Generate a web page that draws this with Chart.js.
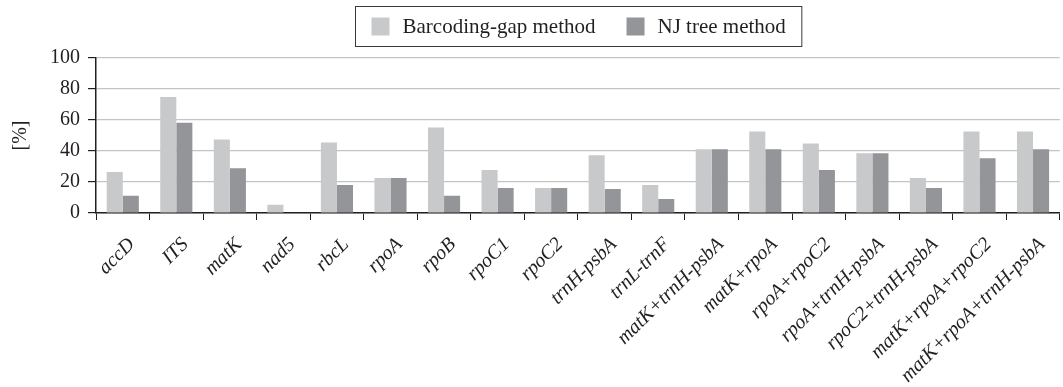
<!DOCTYPE html>
<html>
<head>
<meta charset="utf-8">
<script src="https://cdn.jsdelivr.net/npm/chart.js@4.4.1/dist/chart.umd.min.js"></script>
<style>
  html, body { margin: 0; padding: 0; background: #fff; }
  #wrap { width: 1063px; height: 387px; position: relative; }
</style>
</head>
<body>
<div id="wrap"><canvas id="chart"></canvas></div>
<script>
// Data
const markers = ["accD", "ITS", "matK", "nad5", "rbcL", "rpoA", "rpoB", "rpoC1", "rpoC2",
  "trnH-psbA", "trnL-trnF", "matK+trnH-psbA", "matK+rpoA", "rpoA+rpoC2",
  "rpoA+trnH-psbA", "rpoC2+trnH-psbA", "matK+rpoA+rpoC2", "matK+rpoA+trnH-psbA"];
const gapValues = [26.4, 74.9, 47.4, 5.3, 45.5, 22.6, 55.1, 27.7, 16.2,
  37.2, 18.1, 41.1, 52.6, 44.9, 38.5, 22.6, 52.6, 52.6];
const njValues = [11.1, 58.3, 28.9, 0, 18.1, 22.6, 11.1, 16.2, 16.2,
  15.5, 9.1, 41.1, 41.1, 27.7, 38.5, 16.2, 35.3, 41.1];
const seriesNames = ["Barcoding-gap method", "NJ tree method"];
const yTicks = [0, 20, 40, 60, 80, 100];

const ink = "#231f20";
const serif = "'Liberation Serif', 'Times New Roman', serif";

// Legend drawn inside a framed box, centred over the plot
const boxedLegend = {
  id: "boxedLegend",
  afterDraw(chart) {
    const c = chart.ctx, area = chart.chartArea;
    c.save();
    c.font = "21px " + serif;
    const items = chart.data.datasets.map(ds => ({
      label: ds.label, color: ds.backgroundColor, w: c.measureText(ds.label).width
    }));
    const sw = 18, gap = 13, spacing = 31, padX = 16;
    const total = items.reduce((s, it) => s + sw + gap + it.w, 0) + spacing * (items.length - 1) + padX * 2;
    const left = Math.round((area.left + area.right) / 2 - total / 2) + 0.5;
    const top = 6.5, h = 40;
    c.strokeStyle = "#3a3a3a";
    c.lineWidth = 1;
    c.strokeRect(left, top, total, h);
    let x = left + padX;
    const mid = top + h / 2;
    items.forEach(it => {
      c.fillStyle = it.color;
      c.fillRect(x, mid - sw / 2, sw, sw);
      x += sw + gap;
      c.fillStyle = ink;
      c.textBaseline = "middle";
      c.fillText(it.label, x, mid + 1);
      x += it.w + spacing;
    });
    c.restore();
  }
};

new Chart(document.getElementById("chart"), {
  type: "bar",
  data: {
    labels: markers,
    datasets: [
      { label: seriesNames[0], data: gapValues, backgroundColor: "#c8c9cb" },
      { label: seriesNames[1], data: njValues, backgroundColor: "#939598" }
    ]
  },
  options: {
    responsive: true,
    maintainAspectRatio: false,
    animation: false,
    datasets: { bar: { categoryPercentage: 0.6, barPercentage: 1.0 } },
    layout: { padding: { top: 58, right: -6, left: 9, bottom: 0 } },
    plugins: { legend: { display: false }, tooltip: { enabled: false } },
    scales: {
      x: {
        afterFit: axis => { axis.height = 174; },
        grid: { drawOnChartArea: false, drawTicks: true, tickLength: 7, tickColor: ink, offset: true },
        border: { color: ink, width: 1.5 },
        ticks: {
          color: ink, font: { family: serif, size: 20, style: "italic" },
          minRotation: 45, maxRotation: 45, autoSkip: false, padding: 13, labelOffset: 9
        }
      },
      y: {
        min: 0, max: 100,
        afterBuildTicks: axis => { axis.ticks = yTicks.map(v => ({ value: v })); },
        grid: { color: "#c4c4c4", lineWidth: 1.2, tickLength: 8, tickColor: ink },
        border: { color: ink, width: 1.5 },
        ticks: { color: ink, font: { family: serif, size: 20 }, padding: 8 },
        title: { display: true, text: "[%]", color: ink, font: { family: serif, size: 20 }, padding: { top: 0, bottom: 9 } }
      }
    }
  },
  plugins: [boxedLegend]
});
</script>
</body>
</html>
